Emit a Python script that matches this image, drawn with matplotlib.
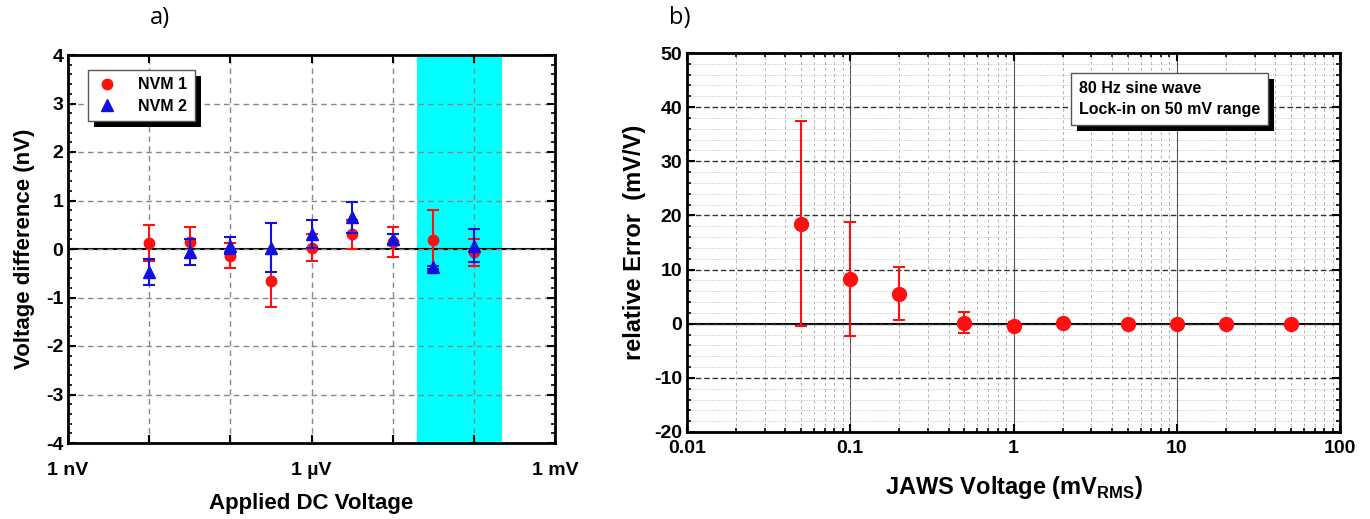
import matplotlib
matplotlib.use("Agg")
import matplotlib.pyplot as plt
import numpy as np
from matplotlib.patches import Rectangle
from matplotlib.ticker import FixedLocator, NullFormatter, MultipleLocator, LogLocator

# ---------------- data (panel a) ----------------
dc_voltage = [1e-8, 3.16e-8, 1e-7, 3.16e-7, 1e-6, 3.16e-6, 1e-5, 3.16e-5, 1e-4]
nvm1 = [0.12, 0.14, -0.14, -0.65, 0.03, 0.30, 0.15, 0.18, -0.07]
nvm1_err = [0.37, 0.32, 0.26, 0.54, 0.28, 0.30, 0.31, 0.63, 0.28]
nvm2 = [-0.47, -0.07, 0.07, 0.03, 0.31, 0.65, 0.21, -0.38, 0.07]
nvm2_err = [0.27, 0.27, 0.17, 0.51, 0.28, 0.32, 0.10, 0.03, 0.34]
band = [2e-5, 2.2e-4]
xtick_a = [1e-9, 1e-8, 1e-7, 1e-6, 1e-5, 1e-4, 1e-3]
xtick_a_labels = ["1 nV", "", "", "1 \u00b5V", "", "", "1 mV"]

# ---------------- data (panel b) ----------------
jaws_v = [0.05, 0.1, 0.2, 0.5, 1, 2, 5, 10, 20, 50]
rel_err = [18.5, 8.3, 5.5, 0.2, -0.4, 0.1, -0.1, -0.1, -0.1, 0.0]
rel_err_unc = [19.0, 10.5, 4.9, 2.0, 0.7, 0.3, 0.3, 0.3, 0.3, 0.3]
xtick_b = [0.01, 0.1, 1, 10, 100]
xtick_b_labels = ["0.01", "0.1", "1", "10", "100"]

plt.rcParams['font.family'] = ['Liberation Sans', 'DejaVu Sans']
plt.rcParams['axes.unicode_minus'] = False

fig = plt.figure(figsize=(13.7, 5.19), dpi=100)
W, H = 1370, 519
def pos(l, r, t, b):
    return [l / W, 1 - b / H, (r - l) / W, (b - t) / H]

# ================= panel a =================
ax = fig.add_axes(pos(68, 555, 55, 443))
ax.set_xscale('log')
ax.set_xlim(1e-9, 1e-3)
ax.set_ylim(-4, 4)
ax.axvspan(band[0], band[1], color='#00FFFF', zorder=0, lw=0)
ax.axhline(0, color='black', lw=1.5, zorder=1)
ax.set_xticks(xtick_a)
ax.set_xticklabels(xtick_a_labels)
ax.xaxis.set_minor_locator(FixedLocator([]))
ax.yaxis.set_major_locator(MultipleLocator(1))
ax.yaxis.set_minor_locator(MultipleLocator(0.2))
ax.grid(True, which='major', ls=(0, (4, 3)), color='#888888', lw=1.0, zorder=0.5)
ax.tick_params(which='both', direction='in', top=True, right=True)
ax.tick_params(which='major', length=6, width=1.5)
ax.tick_params(which='minor', length=3, width=1.2)
ax.tick_params(axis='x', pad=14)
for lab in ax.get_xticklabels() + ax.get_yticklabels():
    lab.set_fontweight('bold')
    lab.set_fontsize(14)
for s in ax.spines.values():
    s.set_linewidth(2)

ax.errorbar(dc_voltage, nvm1, yerr=nvm1_err, fmt='o', color='#FF1010', ms=7.5,
            capsize=4, elinewidth=1.5, capthick=1.5, zorder=3, label='NVM 1')
ax.errorbar(dc_voltage, nvm2, yerr=nvm2_err, fmt='^', color='#1010E0', ms=8,
            capsize=4, elinewidth=1.5, capthick=1.5, zorder=4, label='NVM 2')
ax.set_xlabel("Applied DC Voltage", fontsize=16, fontweight='bold', labelpad=10)
ax.set_ylabel("Voltage difference (nV)", fontsize=16, fontweight='bold', labelpad=8)

handles, labels = ax.get_legend_handles_labels()
handles = [h[0] for h in handles]
leg = ax.legend(handles, labels, loc='upper left', bbox_to_anchor=(0.041, 0.961),
                frameon=True, fancybox=False, edgecolor='#555555', framealpha=1,
                prop={'weight': 'bold', 'size': 11.5}, handletextpad=1.2,
                borderpad=0.45, labelspacing=0.4, handlelength=1.5, borderaxespad=0)
leg.get_frame().set_linewidth(1.0)
leg.set_zorder(10)

fig.text(160 / W, 1 - 18 / H, "a)", fontsize=17, family='Open Sans', va='center', ha='center')

# ================= panel b =================
bx = fig.add_axes(pos(687, 1340, 53, 432))
bx.set_xscale('log')
bx.set_xlim(0.01, 100)
bx.set_ylim(-20, 50)
bx.axhline(0, color='black', lw=1.5, zorder=1)
bx.set_xticks(xtick_b)
bx.set_xticklabels(xtick_b_labels)
bx.xaxis.set_minor_locator(LogLocator(base=10, subs=np.arange(2, 10)))
bx.xaxis.set_minor_formatter(NullFormatter())
bx.yaxis.set_major_locator(MultipleLocator(10))
bx.yaxis.set_minor_locator(MultipleLocator(2))
bx.grid(True, which='major', axis='x', ls='-', color='#555555', lw=0.8, zorder=0.5)
bx.grid(True, which='minor', axis='x', ls=(0, (3, 3)), color='#b0b0b0', lw=0.7, zorder=0.5)
bx.grid(True, which='major', axis='y', ls=(0, (4, 2)), color='#333333', lw=1.0, zorder=0.5)
bx.grid(True, which='minor', axis='y', ls=(0, (1, 1.5)), color='#c0c0c0', lw=0.7, zorder=0.5)
bx.tick_params(which='both', direction='in', top=True, right=True)
bx.tick_params(which='major', length=6, width=1.5)
bx.tick_params(which='minor', length=3, width=1.2)
bx.tick_params(axis='x', pad=6)
for lab in bx.get_xticklabels() + bx.get_yticklabels():
    lab.set_fontweight('bold')
    lab.set_fontsize(14)
for s in bx.spines.values():
    s.set_linewidth(2)

bx.errorbar(jaws_v, rel_err, yerr=rel_err_unc, fmt='o', color='#FF1010', ms=10,
            capsize=4, elinewidth=1.5, capthick=1.5, zorder=3)
bx.set_xlabel(r"JAWS Voltage (mV$_{\mathregular{RMS}}$)", fontsize=17, fontweight='bold',
              labelpad=12)
bx.set_ylabel("relative Error  (mV/V)", fontsize=17, fontweight='bold', labelpad=6)

txt = bx.text(0.6, 0.925, "80 Hz sine wave\nLock-in on 50 mV range", transform=bx.transAxes,
              fontsize=11.5, fontweight='bold',
              va='top', ha='left', linespacing=1.45, zorder=10,
              bbox=dict(boxstyle='square,pad=0.5', fc='white', ec='#555555', lw=1.0))

fig.text(680 / W, 1 - 18 / H, "b)", fontsize=17, family='Open Sans', va='center', ha='center')

# ---- shadows (drawn inside axes, below legend / text box) ----
fig.canvas.draw()
inv = fig.transFigure.inverted()
for artist, a in [(leg.get_frame(), ax), (txt.get_bbox_patch(), bx)]:
    bb = artist.get_window_extent()
    (x0, y0), (x1, y1) = inv.transform([[bb.x0 + 6, bb.y0 - 6], [bb.x1 + 6, bb.y1 - 6]])
    a.add_patch(Rectangle((x0, y0), x1 - x0, y1 - y0, transform=fig.transFigure,
                          fc='black', ec='none', zorder=9, clip_on=False))

fig.savefig("out.png", dpi=100)
